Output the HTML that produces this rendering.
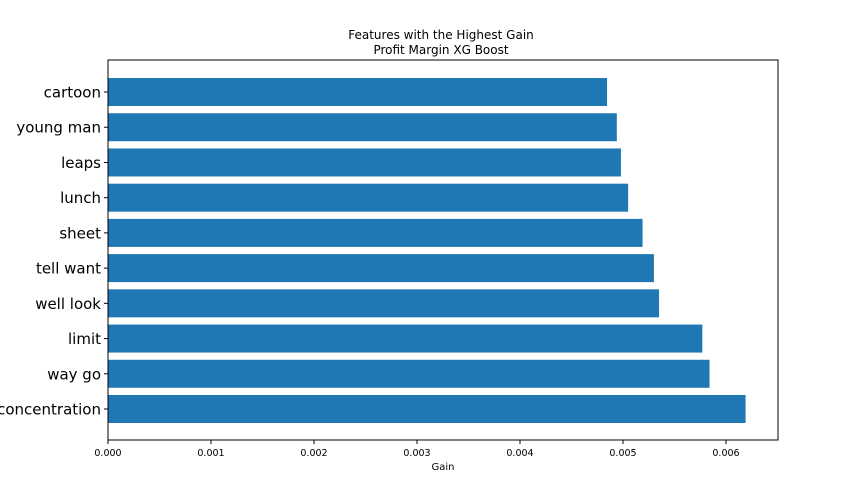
<!DOCTYPE html>
<html><head><meta charset="utf-8"><style>
body{margin:0;background:#fff;}
svg{display:block;font-family:"DejaVu Sans","Liberation Sans",sans-serif;}
</style></head><body>
<svg id="chart" width="864" height="504">
<text x="441" y="39" text-anchor="middle" font-size="12">Features with the Highest Gain</text>
<text x="441" y="54" text-anchor="middle" font-size="12">Profit Margin XG Boost</text>
<g id="bars"></g>
<g id="xticks"></g>
<g id="yticks"></g>
<rect x="108" y="60" width="670" height="380" fill="none" stroke="#000" stroke-width="1"/>
<text x="443" y="470" text-anchor="middle" font-size="10">Gain</text>
</svg>
<script>
const categories = ["concentration","way go","limit","well look","tell want","sheet","lunch","leaps","young man","cartoon"];
const gains = [0.00619,0.00584,0.00577,0.00535,0.0053,0.00519,0.00505,0.00498,0.00494,0.004845];
const tickValues = [0,0.001,0.002,0.003,0.004,0.005,0.006];
const tickLabels = ["0.000","0.001","0.002","0.003","0.004","0.005","0.006"];
const NS="http://www.w3.org/2000/svg";
const x0=108, pxPerUnit=103000;
function xScale(v){return x0+v*pxPerUnit;}
function yScale(i){return 409-i*35.22;}
const bh=28;
const bars=document.getElementById('bars');
const yt=document.getElementById('yticks');
categories.forEach((c,i)=>{
  const r=document.createElementNS(NS,'rect');
  r.setAttribute('x',xScale(0));
  r.setAttribute('y',yScale(i)-bh/2);
  r.setAttribute('width',xScale(gains[i])-xScale(0));
  r.setAttribute('height',bh);
  r.setAttribute('fill','#1f77b4');
  
  
  bars.appendChild(r);
  const l=document.createElementNS(NS,'line');
  l.setAttribute('x1',104);l.setAttribute('x2',108);
  l.setAttribute('y1',yScale(i));l.setAttribute('y2',yScale(i));
  l.setAttribute('stroke','#000');
  
  
  yt.appendChild(l);
  const t=document.createElementNS(NS,'text');
  t.setAttribute('x',101);t.setAttribute('y',yScale(i)+5.5);
  t.setAttribute('text-anchor','end');t.setAttribute('font-size','15');
  t.textContent=c;
  
  
  yt.appendChild(t);
});
const xt=document.getElementById('xticks');
tickValues.forEach((v,i)=>{
  const l=document.createElementNS(NS,'line');
  l.setAttribute('x1',xScale(v));l.setAttribute('x2',xScale(v));
  l.setAttribute('y1',440);l.setAttribute('y2',444);
  l.setAttribute('stroke','#000');
  
  
  xt.appendChild(l);
  const t=document.createElementNS(NS,'text');
  t.setAttribute('x',xScale(v));t.setAttribute('y',456);
  t.setAttribute('text-anchor','middle');t.setAttribute('font-size','9.5');
  t.textContent=tickLabels[i];
  
  
  xt.appendChild(t);
});
</script>
</body></html>
